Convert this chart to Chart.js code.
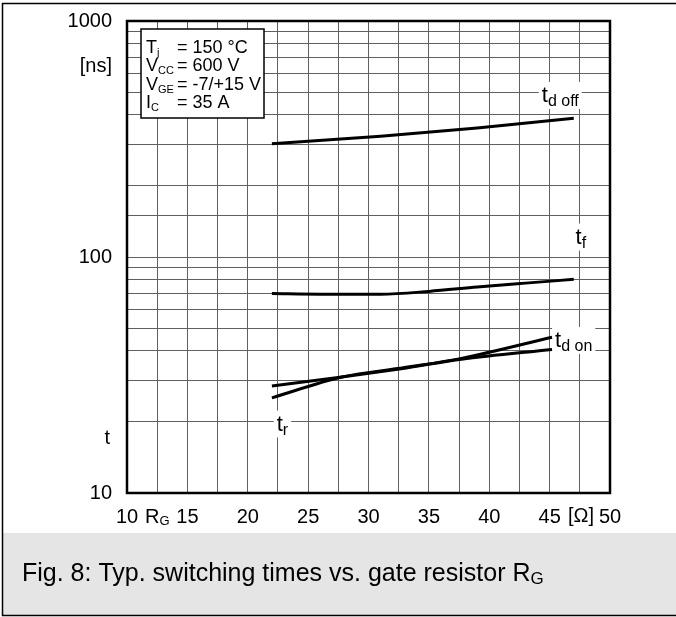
<!DOCTYPE html>
<html>
<head>
<meta charset="utf-8">
<script src="https://cdn.jsdelivr.net/npm/chart.js@4/dist/chart.umd.min.js"></script>
<style>
  html, body { margin: 0; padding: 0; background: #fff; }
  canvas { display: block; }
</style>
</head>
<body>
<canvas id="chart" width="676" height="617"></canvas>
<script>
// gate resistor R_G [Ohm] and switching times [ns]
const tdOffR = [22, 31, 39, 47];
const tdOffT = [302, 325, 352, 387];

const tfR = [22, 26, 31, 35, 39, 43, 47];
const tfT = [70, 69.6, 69.6, 71.5, 74.6, 77.5, 80.4];

const tdOnR = [22, 27.8, 33, 37.7, 45.2];
const tdOnT = [28.4, 31.0, 33.8, 36.9, 40.6];

const trR = [22, 27.8, 33, 37.7, 45.2];
const trT = [25.3, 31.0, 34.0, 37.2, 45.7];

// axis
const xTicks = [10, 15, 20, 25, 30, 35, 40, 45, 50];
const yTicks = [10, 100, 1000];

// curve labels, anchored in data space
const curveLabels = [
  { main: 't', sub: 'd off', x: 44.35, y: 454 },
  { main: 't', sub: 'f', x: 47.15, y: 114 },
  { main: 't', sub: 'd on', x: 45.45, y: 41.6 },
  { main: 't', sub: 'r', x: 22.4, y: 18.4 }
];

// test conditions box
const conditions = [
  ['T', 'j', '= 150 °C'],
  ['V', 'CC', '= 600 V'],
  ['V', 'GE', '= -7/+15 V'],
  ['I', 'C', '= 35 A']
];

const caption = ['Fig. 8: Typ. switching times vs. gate resistor R', 'G'];

const FONT = '"Liberation Sans", Arial, sans-serif';

function toPoints(xs, ys) {
  return xs.map((x, i) => ({ x, y: ys[i] }));
}

function curve(xs, ys) {
  return {
    data: toPoints(xs, ys),
    borderColor: '#000',
    borderWidth: 3,
    pointRadius: 0,
    cubicInterpolationMode: 'monotone',
    fill: false
  };
}

// main text with a lowered, smaller subscript
function subText(ctx, x, y, main, sub, mainSize, subSize, drop) {
  ctx.font = mainSize + 'px ' + FONT;
  ctx.fillText(main, x, y);
  const w = ctx.measureText(main).width;
  ctx.font = subSize + 'px ' + FONT;
  ctx.fillText(sub, x + w, y + drop);
  return w + ctx.measureText(sub).width;
}

const decorPlugin = {
  id: 'decor',
  beforeDraw(chart) {
    const ctx = chart.ctx;
    ctx.save();
    ctx.fillStyle = '#fff';
    ctx.fillRect(0, 0, chart.width, chart.height);
    // caption band
    ctx.fillStyle = '#e5e5e5';
    ctx.fillRect(2, 533, chart.width - 2, 82);
    ctx.fillStyle = '#000';
    ctx.textBaseline = 'alphabetic';
    ctx.textAlign = 'left';
    subText(ctx, 22, 581, caption[0], caption[1], 25, 17, 3);
    // outer frame (top, left, bottom)
    ctx.strokeStyle = '#000';
    ctx.lineWidth = 1.5;
    ctx.beginPath();
    ctx.moveTo(chart.width, 3.5);
    ctx.lineTo(2.5, 3.5);
    ctx.lineTo(2.5, 615.5);
    ctx.lineTo(chart.width, 615.5);
    ctx.stroke();
    ctx.restore();
  },
  beforeDatasetsDraw(chart) {
    const ctx = chart.ctx;
    const a = chart.chartArea;
    const xs = chart.scales.x, ys = chart.scales.y;
    ctx.save();
    // white patches behind curve labels
    ctx.fillStyle = '#fff';
    curveLabels.forEach(l => {
      const px = xs.getPixelForValue(l.x);
      const py = ys.getPixelForValue(l.y);
      ctx.font = '22px ' + FONT;
      let w = ctx.measureText(l.main).width;
      ctx.font = '16px ' + FONT;
      w += ctx.measureText(l.sub).width;
      ctx.fillRect(px - 3, py - 20, w + 6, 27);
    });
    // conditions box
    const bx = a.left + 14, by = a.top + 8;
    ctx.fillRect(bx, by, 123, 89);
    ctx.strokeStyle = '#000';
    ctx.lineWidth = 1.5;
    ctx.strokeRect(bx, by, 123, 89);
    ctx.fillStyle = '#000';
    ctx.textAlign = 'left';
    ctx.textBaseline = 'alphabetic';
    conditions.forEach((c, i) => {
      const base = by + 24 + i * 18.4;
      subText(ctx, bx + 5, base, c[0], c[1], 18, 11, 3);
      ctx.font = '18px ' + FONT;
      ctx.fillText(c[2], bx + 36, base);
    });
    ctx.restore();
  },
  afterDatasetsDraw(chart) {
    const ctx = chart.ctx;
    const xs = chart.scales.x, ys = chart.scales.y;
    ctx.save();
    ctx.fillStyle = '#000';
    ctx.textAlign = 'left';
    ctx.textBaseline = 'alphabetic';
    curveLabels.forEach(l => {
      subText(ctx, xs.getPixelForValue(l.x), ys.getPixelForValue(l.y), l.main, l.sub, 22, 16, 4);
    });
    ctx.restore();
  },
  afterDraw(chart) {
    const ctx = chart.ctx;
    const a = chart.chartArea;
    const xs = chart.scales.x;
    ctx.save();
    // plot frame
    ctx.strokeStyle = '#000';
    ctx.lineWidth = 2.5;
    ctx.strokeRect(a.left, a.top, a.right - a.left, a.bottom - a.top);
    // axis words
    ctx.fillStyle = '#000';
    ctx.font = '20px ' + FONT;
    ctx.textAlign = 'right';
    ctx.textBaseline = 'alphabetic';
    ctx.fillText('[ns]', a.left - 15, 72);
    ctx.fillText('t', a.left - 17, 444);
    ctx.textAlign = 'left';
    subText(ctx, xs.getPixelForValue(11.5), a.bottom + 30, 'R', 'G', 20, 13, 2);
    ctx.font = '20px ' + FONT;
    ctx.textAlign = 'center';
    ctx.fillText('[Ω]', xs.getPixelForValue(47.6), a.bottom + 29);
    ctx.restore();
  }
};

new Chart(document.getElementById('chart'), {
  type: 'line',
  data: {
    datasets: [
      curve(tdOffR, tdOffT),
      curve(tfR, tfT),
      curve(tdOnR, tdOnT),
      curve(trR, trT)
    ]
  },
  options: {
    responsive: false,
    animation: false,
    events: [],
    layout: { padding: { left: 0, top: 21, right: 66, bottom: 84 } },
    plugins: { legend: { display: false }, tooltip: { enabled: false } },
    scales: {
      x: {
        type: 'linear',
        min: 10,
        max: 50,
        afterFit: s => {
          s.height = 40;
          s.paddingLeft = 0;
          s.paddingRight = 0;
        },
        ticks: {
          stepSize: 2.5,
          autoSkip: false,
          maxRotation: 0,
          padding: 12,
          color: '#000',
          font: { family: FONT, size: 20 },
          callback: v => xTicks.includes(v) ? String(v) : ''
        },
        grid: { color: '#606060', lineWidth: 1, drawTicks: false },
        border: { display: false }
      },
      y: {
        type: 'logarithmic',
        min: 10,
        max: 1000,
        afterFit: s => {
          s.width = 127;
          s.paddingTop = 0;
          s.paddingBottom = 0;
        },
        ticks: {
          autoSkip: false,
          padding: 15,
          color: '#000',
          font: { family: FONT, size: 20 },
          callback: v => yTicks.includes(v) ? String(v) : ''
        },
        grid: { color: '#606060', lineWidth: 1, drawTicks: false },
        border: { display: false }
      }
    }
  },
  plugins: [decorPlugin]
});
</script>
</body>
</html>
